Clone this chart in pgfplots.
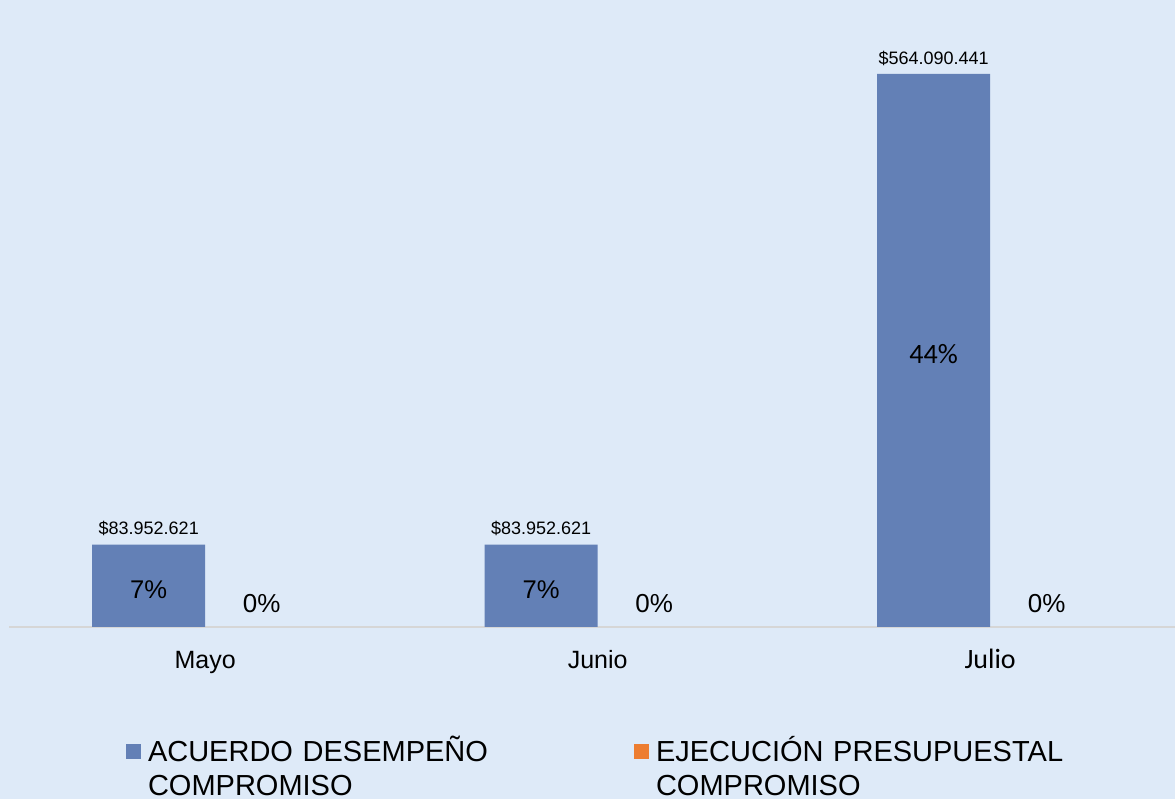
\documentclass[border=0pt]{standalone}
\usepackage{pgfplots}
\pgfplotsset{compat=1.18}
\usepackage{fontspec}
\setmainfont{Liberation Sans}
\newfontfamily\calib{Carlito}
\definecolor{bg}{RGB}{222,234,248}
\definecolor{barblue}{RGB}{99,128,182}
\definecolor{barorange}{RGB}{237,125,49}
\definecolor{axisgray}{RGB}{214,214,214}
\begin{document}
\begin{tikzpicture}
\fill[bg] (0,0) rectangle (587.5bp,399.5bp);
\useasboundingbox (0,0) rectangle (587.5bp,399.5bp);
\begin{axis}[
  at={(4.5bp,86bp)}, anchor=south west,
  scale only axis, width=583bp, height=313.5bp,
  xmin=-0.5, xmax=2.471, ymin=0, ymax=6.3957e8,
  axis x line*=bottom, axis y line=none,
  axis line style={axisgray, line width=0.8bp, -},
  xtick={0,1,2}, xticklabels={Mayo,Junio,{\calib\fontsize{14bp}{16bp}\selectfont Julio}},
  major tick length=0pt,
  xticklabel style={font=\fontsize{12.5bp}{15bp}\selectfont, anchor=base, yshift=-21bp, inner sep=0pt},
  bar width=56.5bp,
  clip=false,
  legend style={at={(axis description cs:0,0)}, anchor=north west, xshift=58.5bp, yshift=-54.5bp,
    draw=none, fill=none, inner sep=0pt, outer sep=0pt,
    font=\fontsize{14.5bp}{17bp}\selectfont,
    legend columns=2,
    /tikz/every odd column/.style={column sep=3.5bp},
    /tikz/every even column/.style={column sep=3bp}},
  legend cell align=left,
]
\addplot[ybar, fill=barblue, draw=none, bar shift=-28.25bp,
  point meta=explicit symbolic, nodes near coords,
  nodes near coords style={anchor=center, xshift=-28.25bp, yshift=8bp, font=\fontsize{9bp}{11bp}\selectfont},
  legend image code/.code={\fill[barblue] (0bp,-4.5bp) rectangle (7.5bp,3bp);}]
  coordinates {(0,83952621) [\$83.952.621] (1,83952621) [\$83.952.621] (2,564090441) [\$564.090.441]};
\addlegendentry[text width=240bp, align=left, inner sep=0pt]{ACUERDO DESEMPEÑO\\COMPROMISO}
\addplot[ybar, fill=none, draw=none, bar shift=28.25bp,
  point meta=explicit symbolic, nodes near coords,
  nodes near coords style={anchor=center, xshift=28.25bp, yshift=11.5bp, font=\fontsize{13bp}{15bp}\selectfont},
  legend image code/.code={\fill[barorange] (0bp,-4.5bp) rectangle (7.5bp,3bp);}]
  coordinates {(0,0) [0\%] (1,0) [0\%] (2,0) [0\%]};
\addlegendentry[text width=240bp, align=left, inner sep=0pt]{EJECUCIÓN PRESUPUESTAL\\COMPROMISO}
\addplot[ybar, draw=none, fill=none, bar shift=-28.25bp, forget plot,
  point meta=explicit symbolic, nodes near coords,
  nodes near coords style={anchor=center, xshift=-28.25bp, yshift=-2bp, font=\fontsize{12.8bp}{15bp}\selectfont}]
  coordinates {(0,41976310) [7\%] (1,41976310) [7\%] (2,282045220) [{\calib\fontsize{14bp}{16bp}\selectfont 44\%}]};
\end{axis}
\end{tikzpicture}
\end{document}
